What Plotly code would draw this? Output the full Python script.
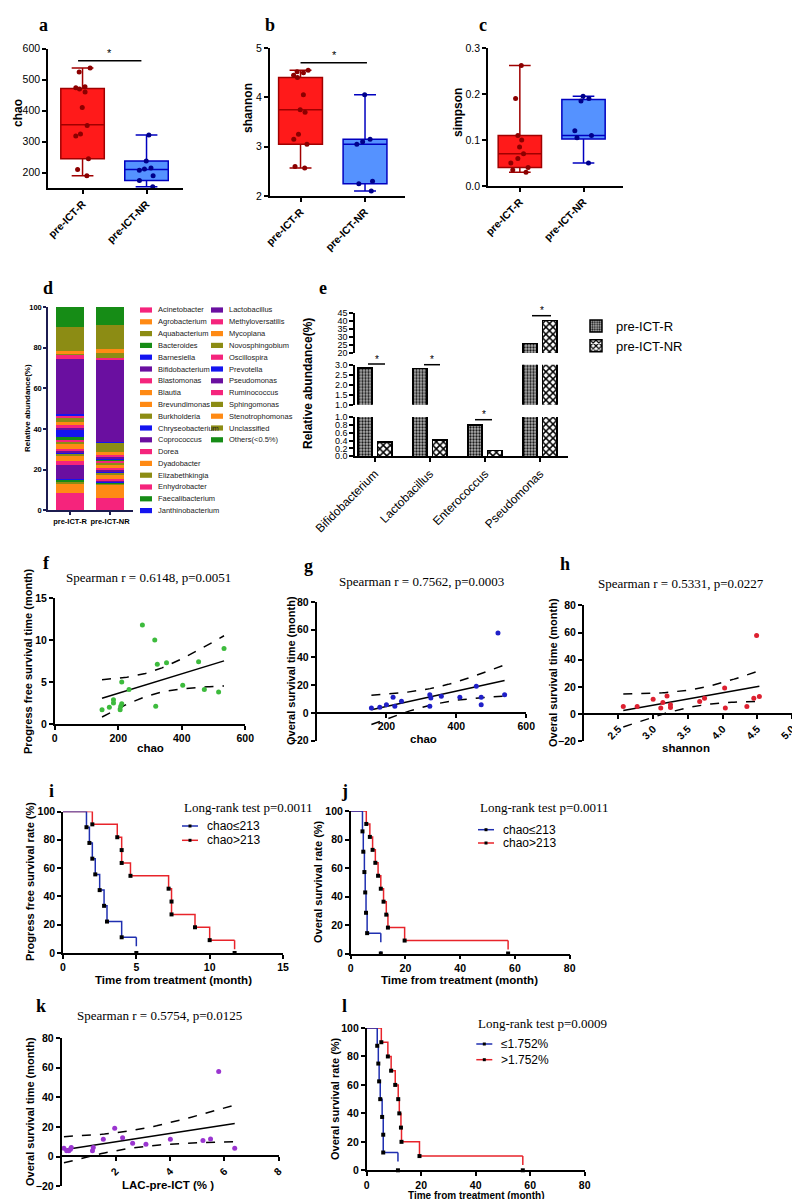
import numpy as np
import plotly.graph_objects as go

W, H = 800, 1199
SANS = "Liberation Sans, Arial, sans-serif"
SERIF = "Liberation Serif, Times New Roman, serif"

# ---------------- data ----------------
groups = ["pre-ICT-R", "pre-ICT-NR"]

# a  chao
chao_R = [538, 525, 477, 474, 470, 460, 410, 352, 325, 318, 245, 210, 190]
chao_NR = [322, 238, 215, 212, 208, 190, 175, 155]
chao_q1 = [245, 175]
chao_med = [355, 210]
chao_q3 = [472, 238]
chao_min = [190, 155]
chao_max = [538, 322]

# b  shannon
shannon_R = [4.55, 4.52, 4.50, 4.45, 4.40, 4.05, 3.75, 3.70, 3.25, 3.15, 3.05, 2.60, 2.57]
shannon_NR = [4.05, 3.15, 3.10, 3.05, 2.30, 2.25, 2.10]
shannon_q1 = [3.05, 2.25]
shannon_med = [3.75, 3.05]
shannon_q3 = [4.40, 3.15]
shannon_min = [2.57, 2.10]
shannon_max = [4.55, 4.05]

# c  simpson
simpson_R = [0.262, 0.19, 0.11, 0.10, 0.085, 0.07, 0.06, 0.05, 0.04, 0.035, 0.03]
simpson_NR = [0.195, 0.19, 0.185, 0.12, 0.11, 0.105, 0.05]
simpson_q1 = [0.04, 0.102]
simpson_med = [0.07, 0.110]
simpson_q3 = [0.11, 0.188]
simpson_min = [0.03, 0.05]
simpson_max = [0.262, 0.195]

# d  genus composition
genera = ["Acinetobacter", "Agrobacterium", "Aquabacterium", "Bacteroides", "Barnesiella",
          "Bifidobacterium", "Blastomonas", "Blautia", "Brevundimonas", "Burkholderia",
          "Chryseobacterium", "Coprococcus", "Dorea", "Dyadobacter", "Elizabethkingia",
          "Enhydrobacter", "Faecalibacterium", "Janthinobacterium", "Lactobacillus",
          "Methyloversatilis", "Mycoplana", "Novosphingobium", "Oscillospira", "Prevotella",
          "Pseudomonas", "Ruminococcus", "Sphingomonas", "Stenotrophomonas", "Unclassified",
          "Others(<0.5%)"]
genus_colors = ["#f5247c", "#ff8a14", "#8c8c14", "#168c16", "#1414f0",
                "#6a0fa0", "#f5247c", "#ff8a14", "#ff8a14", "#8c8c14",
                "#1414f0", "#6a0fa0", "#f5247c", "#ff8a14", "#8c8c14",
                "#f5247c", "#168c16", "#1414f0", "#6a0fa0",
                "#f5247c", "#ff8a14", "#8c8c14", "#f5247c", "#1414f0",
                "#6a0fa0", "#f5247c", "#8c8c14", "#ff8a14", "#8c8c14",
                "#168c16"]
abund_R = [8.5, 4.9, 0.6, 1.0, 0.5, 7.0, 1.8, 1.2, 1.5, 0.8, 0.6, 1.2, 0.8, 2.5, 0.8,
           1.0, 1.6, 3.0, 1.0, 1.5, 1.5, 2.5, 0.5, 1.0, 27.1, 2.0, 0.5, 1.5, 11.9, 9.7]
abund_NR = [6.0, 6.6, 0.8, 0.4, 0.5, 0.3, 1.0, 1.0, 1.0, 1.2, 0.4, 0.8, 0.8, 1.5, 1.0,
            1.2, 0.6, 0.5, 0.4, 1.0, 1.5, 4.8, 0.2, 0.2, 40.0, 1.0, 2.5, 2.0, 11.9, 8.9]

# e  selected genera
e_taxa = ["Bifidobacterium", "Lactobacillus", "Enterococcus", "Pseudomonas"]
e_R = [2.83, 2.80, 0.80, 26.0]
e_NR = [0.36, 0.41, 0.15, 40.2]

# f  chao vs PFS
f_chao = [149, 172, 185, 185, 206, 208, 211, 211, 234, 276, 315, 318, 323, 352, 403, 453, 471, 516, 533]
f_pfs = [1.7, 2.0, 2.9, 2.5, 1.7, 2.1, 2.4, 5.0, 4.1, 11.8, 10.0, 2.1, 7.1, 7.3, 4.6, 7.4, 4.1, 3.8, 9.0]

# g  chao vs OS
g_chao = [157, 181, 200, 219, 224, 243, 324, 324, 327, 357, 410, 457, 471, 471, 519, 538]
g_os = [3.6, 4.1, 6.0, 11.3, 4.8, 8.4, 13.2, 4.8, 10.8, 12.0, 11.3, 19.2, 11.3, 6.0, 57.7, 13.2]

# h  shannon vs OS
h_shannon = [2.57, 2.77, 3.00, 3.11, 3.14, 3.20, 3.25, 3.25, 3.67, 3.74, 4.03, 4.04, 4.35, 4.45, 4.49, 4.53]
h_os = [5.6, 5.6, 11.0, 4.4, 8.6, 13.4, 4.9, 6.8, 9.3, 11.7, 19.1, 4.4, 5.6, 11.7, 57.8, 13.0]

# k  LAC vs OS
k_lac = [0.09, 0.19, 0.27, 0.33, 0.36, 1.14, 1.17, 1.54, 1.96, 2.25, 2.62, 3.11, 4.01, 5.21, 5.49, 5.79, 6.38]
k_os = [5.6, 4.0, 4.0, 5.0, 6.1, 4.0, 6.1, 11.7, 19.1, 12.8, 9.0, 8.3, 11.7, 10.8, 11.9, 57.4, 5.6]

# i, j, l  Kaplan-Meier event times (month)
i_low_t = [1.6, 1.8, 2.0, 2.2, 2.5, 2.8, 3.0, 4.0, 5.0]
i_high_t = [2.0, 3.7, 4.0, 4.0, 4.6, 7.2, 7.4, 7.4, 9.0, 10.0, 11.7]
j_low_t = [4.3, 4.6, 5.0, 5.3, 5.6, 6.0, 11.0]
j_high_t = [5.7, 7.0, 8.0, 9.0, 10.0, 11.0, 12.0, 13.0, 13.6, 19.7, 57.5]
l_low_t = [3.9, 4.3, 4.6, 5.0, 5.7, 6.1, 6.1, 11.5]
l_high_t = [5.4, 7.8, 9.0, 10.5, 11.6, 12.0, 12.6, 12.8, 19.4, 57.3]


# ---------------- helpers ----------------
def xd(l, r):
    return [l / W, r / W]


def yd(t, b):
    return [1 - b / H, 1 - t / H]


def px(x):
    return x / W


def py(y):
    return 1 - y / H


def tf(size=10.5, bold=True, family=SANS, color="black"):
    return dict(family=family, size=size, color=color, weight="bold" if bold else "normal")


BASE = dict(showline=True, linecolor="black", linewidth=1.5, ticks="outside", ticklen=4,
            tickwidth=1.5, tickcolor="black", showgrid=False, zeroline=False, automargin=False)


def ax(**kw):
    d = dict(BASE)
    d.update(kw)
    return d


fig = go.Figure()
annotations = []
shapes = []


def note(x, y, text, font, **kw):
    a = dict(x=px(x), y=py(y), xref="paper", yref="paper", text=text, showarrow=False,
             font=font, xanchor="center", yanchor="middle")
    a.update(kw)
    annotations.append(a)


# ---- a, b, c: box plots ----
box_cols = [("#ff1a1a", "#a00000", "#8b0000"), ("#5592ff", "#0000c0", "#00008b")]


def box_panel(xa, ya, pts, q1, med, q3, lo, hi):
    for i in range(2):
        fill, line, dot = box_cols[i]
        fig.add_trace(go.Box(x=[i], q1=[q1[i]], median=[med[i]], q3=[q3[i]],
                             lowerfence=[lo[i]], upperfence=[hi[i]], fillcolor=fill,
                             line=dict(color=line, width=1.5), width=0.68, whiskerwidth=0.5,
                             boxpoints=False, xaxis=xa, yaxis=ya, showlegend=False,
                             hoverinfo="skip"))
        fig.add_trace(go.Box(x=[i] * len(pts[i]), y=pts[i], boxpoints="all", jitter=0.55,
                             pointpos=0, fillcolor="rgba(0,0,0,0)", line=dict(width=0),
                             marker=dict(color=dot, size=5), width=0.68, xaxis=xa, yaxis=ya,
                             showlegend=False, hoverinfo="skip"))


box_panel("x", "y", [chao_R, chao_NR], chao_q1, chao_med, chao_q3, chao_min, chao_max)
box_panel("x2", "y2", [shannon_R, shannon_NR], shannon_q1, shannon_med, shannon_q3, shannon_min, shannon_max)
box_panel("x3", "y3", [simpson_R, simpson_NR], simpson_q1, simpson_med, simpson_q3, simpson_min, simpson_max)

grp_ticks = dict(tickvals=[0, 1], ticktext=groups, tickangle=-45, tickfont=tf(10.5))
layout_axes = dict(
    xaxis=ax(domain=xd(40, 175), range=[-0.54, 1.57], anchor="y", **grp_ticks),
    yaxis=ax(domain=yd(40.7, 180.2), range=[150, 600], anchor="x",
             tickvals=[200, 300, 400, 500, 600], tickfont=tf(10.5, False)),
    xaxis2=ax(domain=xd(261.7, 397), range=[-0.478, 1.62], anchor="y2", **grp_ticks),
    yaxis2=ax(domain=yd(40, 188), range=[2, 5], anchor="x2", tickvals=[2, 3, 4, 5],
              tickfont=tf(10.5, False)),
    xaxis3=ax(domain=xd(480, 615), range=[-0.5, 1.62], anchor="y3", **grp_ticks),
    yaxis3=ax(domain=yd(40, 178), range=[0, 0.3], anchor="x3", tickvals=[0, 0.1, 0.2, 0.3],
              tickformat=".1f", tickfont=tf(10.5, False)),
)

# significance marks a, b
shapes.append(dict(type="line", xref="x", yref="y", x0=-0.07, x1=0.92, y0=561, y1=561,
                   line=dict(color="black", width=1.5)))
annotations.append(dict(x=0.42, y=561, xref="x", yref="y", text="*", showarrow=False,
                        font=tf(11, False), yanchor="bottom"))
shapes.append(dict(type="line", xref="x2", yref="y2", x0=0.0, x1=1.03, y0=4.70, y1=4.70,
                   line=dict(color="black", width=1.5)))
annotations.append(dict(x=0.52, y=4.70, xref="x2", yref="y2", text="*", showarrow=False,
                        font=tf(11, False), yanchor="bottom"))

# ---- d: stacked composition ----
for g, c, r, nr in zip(genera, genus_colors, abund_R, abund_NR):
    fig.add_trace(go.Bar(x=[0, 1], y=[r, nr], marker=dict(color=c, line=dict(width=0)),
                         width=0.7, xaxis="x4", yaxis="y4", showlegend=False, hoverinfo="skip"))
layout_axes["xaxis4"] = ax(domain=xd(40, 125), range=[-0.55, 1.575], anchor="y4",
                           tickvals=[0, 1], ticktext=groups, tickfont=tf(7.5), ticklen=3,
                           linecolor="#1c1c50", tickcolor="#1c1c50")
layout_axes["yaxis4"] = ax(domain=yd(299, 502.3), range=[0, 100], anchor="x4",
                           tickvals=[0, 20, 40, 60, 80, 100], tickfont=tf(7.5), ticklen=3,
                           linecolor="#1c1c50", tickcolor="#1c1c50")
# d legend in two columns
n_col1 = 18
for k, (g, c) in enumerate(zip(genera, genus_colors)):
    col, row = (0, k) if k < n_col1 else (1, k - n_col1)
    sx = 132 if col == 0 else 203
    yy = 302 + row * 11.8
    shapes.append(dict(type="rect", xref="paper", yref="paper", x0=px(sx), x1=px(sx + 12),
                       y0=py(yy + 2.6), y1=py(yy - 2.6), fillcolor=c, line=dict(width=0)))
    note(sx + 16, yy, g, tf(7.5, False, color="#222"), xanchor="left")

# ---- e: broken-axis bar chart ----
e_pos = np.arange(len(e_taxa))
pat_R = dict(shape=".", fgcolor="#1a1a1a", bgcolor="#b0b0b0", size=3, solidity=0.45)
pat_NR = dict(shape="x", fgcolor="#000000", bgcolor="#ffffff", size=5, solidity=0.5)
for ya in ["y5", "y6", "y7"]:
    first = ya == "y5"
    fig.add_trace(go.Bar(x=e_pos - 0.18, y=e_R, width=0.26, name="pre-ICT-R",
                         marker=dict(color="#b0b0b0", pattern=pat_R, line=dict(color="black", width=1.5)),
                         xaxis="x5", yaxis=ya, showlegend=first, legend="legend", hoverinfo="skip"))
    fig.add_trace(go.Bar(x=e_pos + 0.18, y=e_NR, width=0.26, name="pre-ICT-NR",
                         marker=dict(color="#ffffff", pattern=pat_NR, line=dict(color="black", width=1.5)),
                         xaxis="x5", yaxis=ya, showlegend=first, legend="legend", hoverinfo="skip"))
e_tick = tf(9, False)
layout_axes["xaxis5"] = ax(domain=xd(347, 560), range=[-0.36, 3.51], anchor="y5",
                           tickvals=list(e_pos), ticktext=e_taxa, tickangle=-45,
                           tickfont=tf(12, False))
layout_axes["yaxis5"] = ax(domain=yd(409, 448.3), range=[0, 1.0], anchor="x5",
                           tickvals=[0, 0.2, 0.4, 0.6, 0.8, 1.0], tickformat=".1f", tickfont=e_tick)
layout_axes["yaxis6"] = ax(domain=yd(356.7, 396.7), range=[1.0, 3.0], anchor="x5",
                           tickvals=[1.0, 1.5, 2.0, 2.5, 3.0], tickformat=".1f", tickfont=e_tick)
layout_axes["yaxis7"] = ax(domain=yd(305, 345), range=[20, 45], anchor="x5",
                           tickvals=[20, 25, 30, 35, 40, 45], tickfont=e_tick)
for x0, x1, yy in [(360, 377, 356), (416, 432, 356.7), (467, 484, 411.7), (524, 543, 307.7)]:
    shapes.append(dict(type="line", xref="paper", yref="paper", x0=px(x0), x1=px(x1),
                       y0=py(yy), y1=py(yy), line=dict(color="black", width=1.5)))
    note((x0 + x1) / 2, yy - 5, "*", tf(10, False))


# ---- f, g, h, k: correlation scatter with fit and 95% band ----
def fit_ci(x, y, tcrit=2.13):
    x = np.asarray(x, float)
    y = np.asarray(y, float)
    n = len(x)
    b, a = np.polyfit(x, y, 1)
    xs = np.linspace(x.min(), x.max(), 60)
    yh = a + b * xs
    s = np.sqrt(((y - (a + b * x)) ** 2).sum() / (n - 2))
    sxx = ((x - x.mean()) ** 2).sum()
    se = s * np.sqrt(1 / n + (xs - x.mean()) ** 2 / sxx)
    return xs, yh, yh - tcrit * se, yh + tcrit * se


def corr_panel(x, y, color, xa, ya):
    xs, yh, lo, hi = fit_ci(x, y)
    for yy, dash in [(yh, "solid"), (lo, "dash"), (hi, "dash")]:
        fig.add_trace(go.Scatter(x=xs, y=yy, mode="lines", line=dict(color="black", width=1.5, dash=dash),
                                 xaxis=xa, yaxis=ya, showlegend=False, hoverinfo="skip"))
    fig.add_trace(go.Scatter(x=x, y=y, mode="markers", marker=dict(color=color, size=5),
                             xaxis=xa, yaxis=ya, showlegend=False, hoverinfo="skip", cliponaxis=False))


corr_panel(f_chao, f_pfs, "#3dbb3d", "x6", "y8")
corr_panel(g_chao, g_os, "#2020c8", "x7", "y9")
corr_panel(h_shannon, h_os, "#dd2030", "x8", "y10")
corr_panel(k_lac, k_os, "#9a35d0", "x11", "y13")

os_ticks = dict(tickvals=[-20, 0, 20, 40, 60, 80], tickfont=tf())
layout_axes.update(
    xaxis6=ax(domain=xd(46.7, 237.3), range=[0, 600], anchor="y8", tickvals=[0, 200, 400, 600], tickfont=tf()),
    yaxis8=ax(domain=yd(590, 716), range=[0, 15], anchor="x6", tickvals=[0, 5, 10, 15], tickfont=tf()),
    xaxis7=ax(domain=xd(308.5, 518.3), range=[0, 600], anchor="free", position=py(705),
              tickvals=[200, 400, 600], tickfont=tf()),
    yaxis9=ax(domain=yd(594, 732.7), range=[-20, 80], anchor="x7", **os_ticks),
    xaxis8=ax(domain=xd(575.7, 784), range=[2, 5], anchor="free", position=py(706),
              tickvals=[2.5, 3.0, 3.5, 4.0, 4.5, 5.0], tickformat=".1f", tickangle=-45, tickfont=tf()),
    yaxis10=ax(domain=yd(597.3, 733.3), range=[-20, 80], anchor="x8", **os_ticks),
    xaxis11=ax(domain=xd(53.5, 270.7), range=[0, 8], anchor="free", position=py(1148.3),
               tickvals=[2, 4, 6, 8], tickangle=-45, tickfont=tf()),
    yaxis13=ax(domain=yd(1030, 1178.3), range=[-20, 80], anchor="x11", **os_ticks),
)


# ---- i, j, l: Kaplan-Meier ----
RED, BLUE = "#e8242b", "#1f2fb0"


def km(times, color, xa, ya):
    t = np.sort(np.asarray(times, float))
    n = len(t)
    s = 100 * (1 - np.arange(1, n + 1) / n)
    xs = np.concatenate([[0], t[:-1], [t[-1]]])
    ys = np.concatenate([[100], s[:-1], [s[-2]]])
    fig.add_trace(go.Scatter(x=xs, y=ys, mode="lines", line=dict(color=color, width=1.5, shape="hv"),
                             xaxis=xa, yaxis=ya, showlegend=False, hoverinfo="skip"))
    fig.add_trace(go.Scatter(x=[t[-1], t[-1]], y=[s[-2], 0], mode="lines",
                             line=dict(color=color, width=1.5, dash="dash"),
                             xaxis=xa, yaxis=ya, showlegend=False, hoverinfo="skip"))
    fig.add_trace(go.Scatter(x=t, y=s, mode="markers", marker=dict(symbol="square", size=4, color="black"),
                             xaxis=xa, yaxis=ya, showlegend=False, hoverinfo="skip", cliponaxis=False))


km(i_high_t, RED, "x9", "y11")
km(i_low_t, BLUE, "x9", "y11")
km(j_high_t, RED, "x10", "y12")
km(j_low_t, BLUE, "x10", "y12")
km(l_high_t, RED, "x12", "y14")
km(l_low_t, BLUE, "x12", "y14")

rate_ticks = dict(tickvals=[0, 20, 40, 60, 80, 100], tickfont=tf())
layout_axes.update(
    xaxis9=ax(domain=xd(55, 275), range=[0, 15], anchor="y11", tickvals=[0, 5, 10, 15], tickfont=tf()),
    yaxis11=ax(domain=yd(803.5, 945), range=[0, 100], anchor="x9", **rate_ticks),
    xaxis10=ax(domain=xd(342.7, 561.7), range=[0, 80], anchor="y12", tickvals=[0, 20, 40, 60, 80], tickfont=tf()),
    yaxis12=ax(domain=yd(803, 945.5), range=[0, 100], anchor="x10", **rate_ticks),
    xaxis12=ax(domain=xd(358.6, 576.7), range=[0, 80], anchor="y14", tickvals=[0, 20, 40, 60, 80], tickfont=tf()),
    yaxis14=ax(domain=yd(1020, 1162.3), range=[0, 100], anchor="x12", **rate_ticks),
)


def km_legend(x0, y_title, y_items, title, labels):
    note(x0, y_title, title, tf(13, False, SERIF), xanchor="left")
    for yy, lab, col in zip(y_items, labels, [BLUE, RED]):
        shapes.append(dict(type="line", xref="paper", yref="paper", x0=px(x0), x1=px(x0 + 16),
                           y0=py(yy), y1=py(yy), line=dict(color=col, width=1.5)))
        shapes.append(dict(type="rect", xref="paper", yref="paper", x0=px(x0 + 6.5), x1=px(x0 + 9.5),
                           y0=py(yy + 1.5), y1=py(yy - 1.5), fillcolor="black", line=dict(width=0)))
        note(x0 + 23, yy, lab, tf(12, False), xanchor="left")


km_legend(174, 800, [818, 832.3], "Long-rank test p=0.0011", ["chao\u2264213", "chao>213"])
km_legend(470, 799.3, [821.7, 835], "Long-rank test p=0.0011", ["chao\u2264213", "chao>213"])
km_legend(468.3, 1016, [1036, 1051.7], "Long-rank test p=0.0009", ["\u22641.752%", ">1.752%"])

# ---- titles, panel letters ----
for x, y, t in [(35, 16.7, "a"), (261.7, 16.7, "b"), (475, 16.7, "c"), (40, 280, "d"),
                (315, 280, "e"), (38.3, 555, "f"), (300, 558.3, "g"), (556.7, 556, "h"),
                (43.3, 783.3, "i"), (336.7, 783.3, "j"), (33.3, 998.3, "k"), (336.7, 998.3, "l")]:
    note(x, y, t, tf(18, True, SERIF))

for x, y, t in [(140, 569.3, "Spearman r = 0.6148, p=0.0051"), (414, 573.3, "Spearman r = 0.7562, p=0.0003"),
                (673.3, 576, "Spearman r = 0.5331, p=0.0227"), (151.7, 1007.3, "Spearman r = 0.5754, p=0.0125")]:
    note(x, y, t, tf(13, False, SERIF))

for x, y, t, s in [(10, 105, "chao", 12), (240, 100, "shannon", 12), (450, 105, "simpson", 12),
                   (20, 400, "Relative abundance(%)", 8), (300, 376, "Relative abundance(%)", 12),
                   (20, 653, "Progress free survival time (month)", 11),
                   (283, 663, "Overal survival time (month)", 11), (545, 665, "Overal survival time (month)", 11),
                   (22, 874, "Progress free survival rate (%)", 11), (310, 874, "Overal survival rate (%)", 11),
                   (22, 1104, "Overal survival time (month)", 11), (327, 1091, "Overal survival rate (%)", 11)]:
    note(x, y, t, tf(s), textangle=-90)

for x, y, t, s in [(142, 740, "chao", 11.5), (415, 730.7, "chao", 11.5), (678, 740, "shannon", 11.5),
                   (165, 971.7, "Time from treatment (month)", 11.5),
                   (452, 971.7, "Time from treatment (month)", 11.5),
                   (160, 1176.7, "LAC-pre-ICT (% )", 11.5), (468, 1187, "Time from treatment (month)", 10)]:
    note(x, y, t, tf(s))

fig.update_layout(
    template="none",
    width=W, height=H, margin=dict(l=0, r=0, t=0, b=0, autoexpand=False),
    paper_bgcolor="white", plot_bgcolor="white",
    barmode="stack", boxmode="overlay", showlegend=True,
    legend=dict(x=px(568), y=py(303), xanchor="left", yanchor="top", font=tf(13, False),
                bgcolor="rgba(0,0,0,0)", itemwidth=30, traceorder="normal"),
    annotations=annotations, shapes=shapes,
    **layout_axes,
)

fig.write_html("out.html")
